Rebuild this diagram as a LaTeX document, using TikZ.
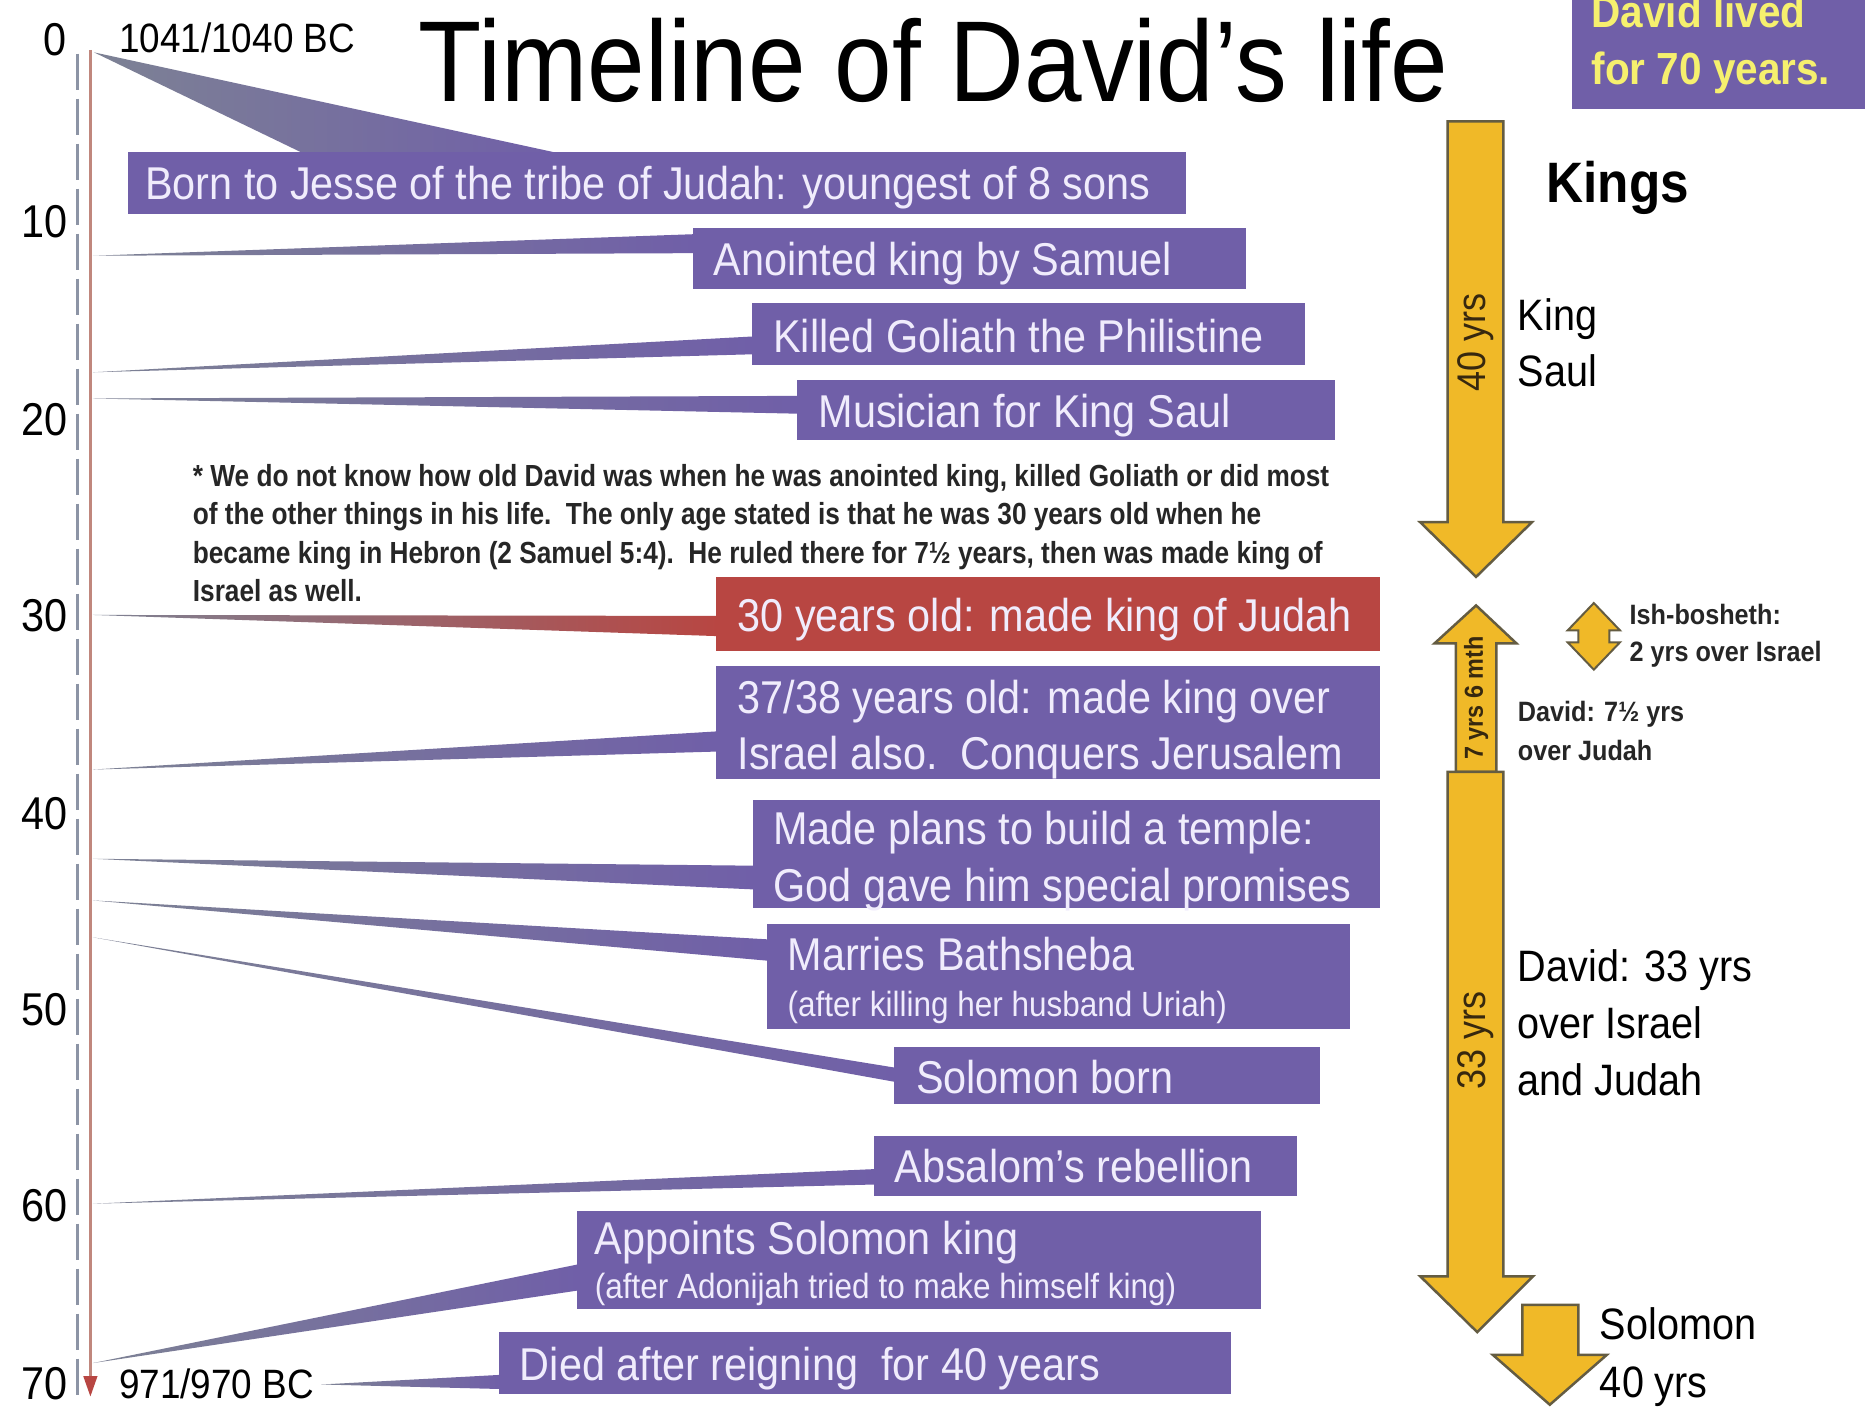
\documentclass[tikz,border=0pt]{standalone}
\usepackage{fontspec}
\setmainfont{Liberation Sans}[FakeStretch=0.9]
\newfontfamily\notefont{Liberation Sans}[FakeStretch=0.86]
\usetikzlibrary{fit,calc}
\definecolor{dpurple}{RGB}{112,95,168}
\definecolor{dred}{RGB}{184,70,66}
\definecolor{dgold}{RGB}{240,185,40}
\definecolor{dgoldline}{RGB}{100,92,66}
\definecolor{dyell}{RGB}{246,240,110}
\definecolor{boxtxt}{RGB}{240,236,252}
\definecolor{conngray}{RGB}{125,130,148}
\definecolor{tlgray}{RGB}{140,148,165}
\definecolor{tlbrown}{RGB}{192,135,125}
\definecolor{arrtxt}{RGB}{55,40,15}
\tikzset{
  box/.style={inner sep=0pt, fill=dpurple},
  redbox/.style={inner sep=0pt, fill=dred},
  btxt/.style={anchor=base west, inner sep=0pt, text=boxtxt, font=\fontsize{46}{52}\selectfont},
  bsub/.style={anchor=base west, inner sep=0pt, text=boxtxt, font=\fontsize{35}{40}\selectfont},
  wedgep/.style={left color=conngray, right color=dpurple},
  wedger/.style={left color=conngray, right color=dred},
  tick/.style={anchor=base east, inner sep=0pt, font=\fontsize{46}{50}\selectfont},
  plain/.style={anchor=base west, inner sep=0pt, font=\fontsize{44}{50}\selectfont},
  small/.style={anchor=base west, inner sep=0pt, text=black!85, font=\bfseries\fontsize{28}{32}\selectfont},
  note/.style={anchor=base west, inner sep=0pt, text=black!85, font=\notefont\bfseries\fontsize{30.5}{34}\selectfont},
  kingarrow/.style={fill=dgold, draw=dgoldline, line width=2.5pt, line join=miter},
  arrlabel/.style={rotate=90, inner sep=0pt, text=arrtxt},
}
\begin{document}
\begin{tikzpicture}[x=1.1894pt, y=-1.1894pt]
\useasboundingbox (0,0) rectangle (1568,1186);
\fill[white] (0,0) rectangle (1568,1186);

% timeline
\coordinate (tltop) at (65,45);
\coordinate (tlbot) at (65,1180);
\draw[tlgray, line width=3.5pt, dash pattern=on 36pt off 9pt] (tltop) -- (tlbot);
\coordinate (brtop) at (76,42);
\coordinate (brbot) at (76,1160);
\draw[tlbrown, line width=2.5pt] (brtop) -- (brbot);
\fill[dred] (70,1157) -- (82,1157) -- (76,1174) -- cycle;

% tick labels
\node[tick] (y0) at (56,47) {0};
\node[tick] (y10) at (57,200) {10};
\node[tick] (y20) at (57,366) {20};
\node[tick] (y30) at (57,531) {30};
\node[tick] (y40) at (57,697) {40};
\node[tick] (y50) at (57,862) {50};
\node[tick] (y60) at (57,1027) {60};
\node[tick] (y70) at (57,1177) {70};

\node[anchor=base west, inner sep=0pt, font=\fontsize{41}{45}\selectfont] (start) at (100,44) {1041/1040 BC};
\node[anchor=base west, inner sep=0pt, font=\fontsize{41}{45}\selectfont] (end) at (100,1176) {971/970 BC};

% title
\node[anchor=base west, inner sep=0pt, font=\fontsize{115}{120}\selectfont] (title) at (352,85) {Timeline of David’s life};

% tips
\coordinate (t1) at (79,44);
\coordinate (t2) at (78,215);
\coordinate (t3) at (78,313);
\coordinate (t4) at (78,335);
\coordinate (t5) at (78,517);
\coordinate (t6) at (78,647);
\coordinate (t7) at (78,722);
\coordinate (t8) at (78,757);
\coordinate (t9) at (78,788);
\coordinate (t10) at (78,1012);
\coordinate (t11) at (78,1146);
\coordinate (t12) at ($(end.base east)+(6,-12)$);

% boxes
\node[box, fit={(108,128) (997,180)}] (b1) {};
\node[box, fit={(583,192) (1047,243)}] (b2) {};
\node[box, fit={(632,255) (1097,307)}] (b3) {};
\node[box, fit={(670,320) (1122,370)}] (b4) {};
\node[redbox, fit={(602,485) (1160,547)}] (b5) {};
\node[box, fit={(602,560) (1160,655)}] (b6) {};
\node[box, fit={(633,673) (1160,763)}] (b7) {};
\node[box, fit={(645,777) (1135,865)}] (b8) {};
\node[box, fit={(752,880) (1110,928)}] (b9) {};
\node[box, fit={(735,955) (1090,1005)}] (b10) {};
\node[box, fit={(485,1018) (1060,1100)}] (b11) {};
\node[box, fit={(420,1120) (1035,1172)}] (b12) {};
\node[box, fit={(1322,-20) (1570,92)}] (btop) {};

% wedges (connectors)
\shade[wedgep] (t1) -- ($(b1.north west)+(147,1)$) -- ($(b1.north west)+(362,1)$) -- cycle;
\shade[wedgep] (t2) -- ($(b2.north west)+(2,5)$) -- ($(b2.north west)+(2,21)$) -- cycle;
\shade[wedgep] (t3) -- ($(b3.north west)+(2,28)$) -- ($(b3.north west)+(2,43)$) -- cycle;
\shade[wedgep] (t4) -- ($(b4.north west)+(2,13)$) -- ($(b4.north west)+(2,28)$) -- cycle;
\shade[wedger] (t5) -- ($(b5.north west)+(2,33)$) -- ($(b5.north west)+(2,50)$) -- cycle;
\shade[wedgep] (t6) -- ($(b6.north west)+(2,55)$) -- ($(b6.north west)+(2,72)$) -- cycle;
\shade[wedgep] (t7) -- ($(b7.north west)+(2,55)$) -- ($(b7.north west)+(2,75)$) -- cycle;
\shade[wedgep] (t8) -- ($(b8.north west)+(2,13)$) -- ($(b8.north west)+(2,31)$) -- cycle;
\shade[wedgep] (t9) -- ($(b9.north west)+(2,18)$) -- ($(b9.north west)+(2,30)$) -- cycle;
\shade[wedgep] (t10) -- ($(b10.north west)+(2,28)$) -- ($(b10.north west)+(2,41)$) -- cycle;
\shade[wedgep] (t11) -- ($(b11.north west)+(2,45)$) -- ($(b11.north west)+(2,67)$) -- cycle;
\shade[wedgep] (t12) -- ($(b12.north west)+(2,36)$) -- ($(b12.north west)+(2,48)$) -- cycle;

% redraw boxes over wedge bases
\fill[dpurple] (b1.north west) rectangle (b1.south east);
\fill[dpurple] (b2.north west) rectangle (b2.south east);
\fill[dpurple] (b3.north west) rectangle (b3.south east);
\fill[dpurple] (b4.north west) rectangle (b4.south east);
\fill[dred] (b5.north west) rectangle (b5.south east);
\fill[dpurple] (b6.north west) rectangle (b6.south east);
\fill[dpurple] (b7.north west) rectangle (b7.south east);
\fill[dpurple] (b8.north west) rectangle (b8.south east);
\fill[dpurple] (b9.north west) rectangle (b9.south east);
\fill[dpurple] (b10.north west) rectangle (b10.south east);
\fill[dpurple] (b11.north west) rectangle (b11.south east);
\fill[dpurple] (b12.north west) rectangle (b12.south east);

% box texts
\node[btxt] (n1) at (122,168) {Born to Jesse of the tribe of Judah: youngest of 8 sons};
\node[btxt] (n2) at (600,232) {Anointed king by Samuel};
\node[btxt] (n3) at (650,296) {Killed Goliath the Philistine};
\node[btxt] (n4) at (688,359) {Musician for King Saul};
\node[btxt] (n5) at (620,531) {30 years old: made king of Judah};
\node[btxt] (n6a) at (620,600) {37/38 years old: made king over};
\node[btxt] (n6b) at (620,647) {Israel also.\ \ Conquers Jerusalem};
\node[btxt] (n7a) at (650,710) {Made plans to build a temple:};
\node[btxt] (n7b) at (650,758) {God gave him special promises};
\node[btxt] (n8a) at (662,816) {Marries Bathsheba};
\node[bsub] (n8b) at (662,855) {(after killing her husband Uriah)};
\node[btxt] (n9) at (770,919) {Solomon born};
\node[btxt] (n10) at (752,994) {Absalom’s rebellion};
\node[btxt] (n11a) at (500,1055) {Appoints Solomon king};
\node[bsub] (n11b) at (500,1092) {(after Adonijah tried to make himself king)};
\node[btxt] (n12) at (437,1161) {Died after reigning\ \ for 40 years};

\node[anchor=base west, inner sep=0pt, text=dyell, font=\bfseries\fontsize{45}{50}\selectfont] (lived1) at (1338,23) {David lived};
\node[anchor=base west, inner sep=0pt, text=dyell, font=\bfseries\fontsize{45}{50}\selectfont] (lived2) at (1338,71) {for 70 years.};

% footnote
\node[note] (f1) at (162,409) {* We do not know how old David was when he was anointed king, killed Goliath or did most};
\node[note] (f2) at (162,441) {of the other things in his life.\ \ The only age stated is that he was 30 years old when he};
\node[note] (f3) at (162,474) {became king in Hebron (2 Samuel 5:4).\ \ He ruled there for 7½ years, then was made king of};
\node[note] (f4) at (162,506) {Israel as well.};

% king arrows
\filldraw[kingarrow] (1217,102) -- (1264,102) -- (1264,439) -- (1288,439) -- (1241,485) -- (1194,439) -- (1217,439) -- cycle;
\filldraw[kingarrow] (1241,509) -- (1275,541) -- (1258,541) -- (1258,649) -- (1224,649) -- (1224,541) -- (1206,541) -- cycle;
\filldraw[kingarrow] (1217,649) -- (1264,649) -- (1264,1073) -- (1289,1073) -- (1242,1120) -- (1194,1073) -- (1217,1073) -- cycle;
\filldraw[kingarrow] (1280,1097) -- (1327,1097) -- (1327,1139) -- (1351,1139) -- (1303,1181) -- (1255,1139) -- (1280,1139) -- cycle;
\filldraw[kingarrow, line width=2pt] (1340,507) -- (1362,530) -- (1353,530) -- (1353,540) -- (1362,540) -- (1340,563) -- (1318,540) -- (1327,540) -- (1327,530) -- (1318,530) -- cycle;

\node[arrlabel, font=\fontsize{40}{40}\selectfont] (l40) at (1241,288) {40 yrs};
\node[arrlabel, font=\bfseries\fontsize{26}{26}\selectfont] (l7) at (1241,587) {7 yrs 6 mth};
\node[arrlabel, font=\fontsize{40}{40}\selectfont] (l33) at (1241,875) {33 yrs};

% right texts
\node[anchor=base west, inner sep=0pt, font=\bfseries\fontsize{57}{60}\selectfont] (kings) at (1300,170) {Kings};
\node[plain] (saul1) at (1276,278) {King};
\node[plain] (saul2) at (1276,325) {Saul};
\node[small] (ish1) at (1370,525) {Ish-bosheth:};
\node[small] (ish2) at (1370,556) {2 yrs over Israel};
\node[small] (dj1) at (1276,607) {David: 7½ yrs};
\node[small] (dj2) at (1276,639) {over Judah};
\node[plain] (d1) at (1276,825) {David: 33 yrs};
\node[plain] (d2) at (1276,873) {over Israel};
\node[plain] (d3) at (1276,921) {and Judah};
\node[plain] (sol1) at (1345,1126) {Solomon};
\node[plain] (sol2) at (1345,1175) {40 yrs};
\end{tikzpicture}
\end{document}
